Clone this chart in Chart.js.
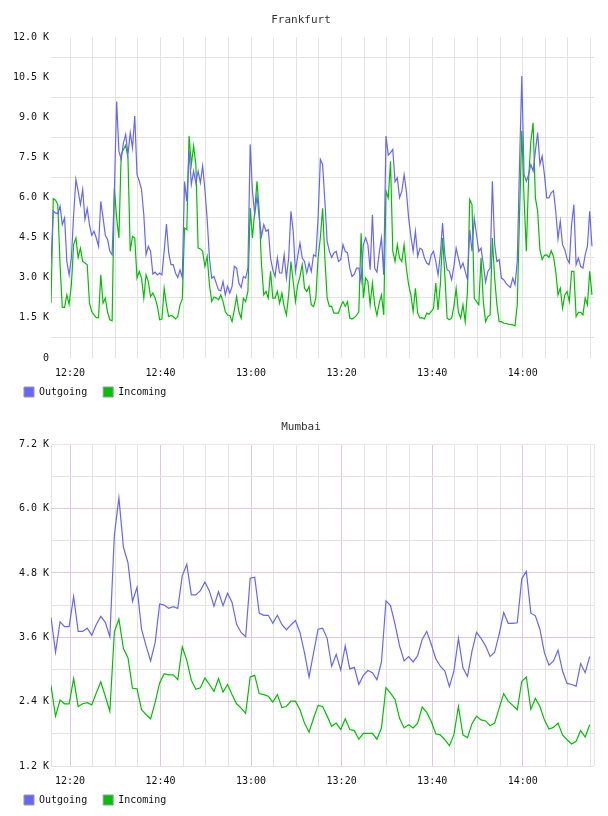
<!DOCTYPE html>
<html>
<head>
<meta charset="utf-8">
<script src="https://cdn.jsdelivr.net/npm/chart.js@4/dist/chart.umd.min.js"></script>
<style>
body { margin: 0; background: #fff; }
canvas { display: block; }
</style>
</head>
<body>
<canvas id="frankfurtChart" width="608" height="407"></canvas>
<canvas id="mumbaiChart" width="608" height="408"></canvas>
<script>
// time axis in minutes after 12:00
const timeStart = 15.8;
const timeEnd = 135.75;
const frankfurtStep = 0.5;
const mumbaiStep = 1;
const xGridMinutes = [20, 25, 30, 35, 40, 45, 50, 55, 60, 65, 70, 75, 80, 85, 90, 95, 100, 105, 110, 115, 120, 125, 130, 135];
const xLabelMinutes = [20, 40, 60, 80, 100, 120];
const xLabels = ["12:20", "12:40", "13:00", "13:20", "13:40", "14:00"];

// values in thousands
const frankfurtOutgoing = [
  3.5, 5.49, 5.43, 5.4, 5.68, 4.99, 5.24, 3.61, 3.11, 3.74,
  5.36, 6.68, 6.24, 5.74, 6.3, 5.18, 5.59, 4.99, 4.59, 4.74,
  4.49, 4.18, 5.86, 5.24, 4.59, 4.43, 3.99, 3.86, 6.24, 9.59,
  7.74, 7.43, 8.05, 8.36, 7.61, 8.43, 7.86, 9.05, 6.86, 6.61,
  6.3, 5.36, 3.86, 4.18, 3.99, 3.14, 3.21, 3.11, 3.18, 3.11,
  3.99, 5.01, 3.93, 3.49, 3.49, 3.18, 3.01, 3.3, 3.01, 6.6,
  5.86, 7.74, 6.49, 6.99, 6.55, 6.99, 6.55, 7.18, 6.3, 5.18,
  3.74, 2.99, 3.05, 2.8, 2.55, 2.51, 2.86, 2.36, 2.68, 2.43,
  2.68, 3.43, 3.36, 2.8, 2.64, 3.05, 2.99, 3.36, 7.99, 6.24,
  5.36, 6.05, 5.24, 4.55, 4.99, 4.74, 4.8, 3.74, 3.3, 3.05,
  3.74, 3.18, 3.18, 3.86, 2.99, 3.74, 5.49, 4.74, 3.24, 3.8,
  4.3, 3.74, 3.61, 3.18, 3.55, 3.24, 3.86, 3.8, 5.24, 7.43,
  7.24, 5.86, 4.36, 3.99, 3.76, 3.93, 3.99, 3.61, 3.68, 4.24,
  3.99, 3.93, 3.36, 3.05, 3.14, 3.36, 3.36, 2.86, 4.24, 4.49,
  4.24, 3.3, 5.36, 3.36, 3.21, 3.93, 4.49, 3.11, 8.3, 7.59,
  7.68, 7.8, 6.59, 6.74, 5.99, 6.24, 6.86, 6.24, 5.24, 4.55,
  3.99, 4.74, 3.8, 4.11, 4.05, 3.74, 3.55, 3.49, 3.86, 3.99,
  3.61, 3.11, 3.86, 5.05, 3.86, 3.3, 3.24, 2.93, 3.43, 4.11,
  3.74, 3.36, 3.55, 3.24, 2.93, 4.8, 3.99, 5.24, 4.61, 3.99,
  4.11, 3.49, 2.84, 3.24, 3.36, 6.61, 4.24, 3.61, 3.68, 2.99,
  2.93, 2.8, 2.71, 2.64, 2.99, 2.74, 3.61, 7.24, 10.55, 6.86,
  6.61, 6.86, 7.24, 6.99, 7.74, 8.43, 7.24, 7.55, 6.86, 5.99,
  5.99, 6.18, 6.26, 5.49, 4.46, 5.11, 4.24, 4.05, 3.71, 3.55,
  4.99, 5.74, 3.49, 3.74, 3.43, 3.36, 3.86, 4.18, 5.49, 4.18
];
const frankfurtIncoming = [
  2.05, 5.96, 5.9, 5.74, 3.49, 1.89, 1.89, 2.36, 2.01, 2.74,
  4.24, 4.49, 3.76, 4.11, 3.61, 3.55, 3.49, 2.05, 1.74, 1.61,
  1.51, 1.51, 3.11, 2.05, 2.24, 1.71, 1.43, 1.39, 6.36, 5.24,
  4.49, 7.61, 7.8, 7.96, 7.49, 3.99, 4.55, 4.49, 2.99, 3.24,
  2.99, 2.24, 3.11, 2.86, 2.3, 2.43, 2.24, 1.93, 1.43, 1.46,
  2.61, 1.99, 1.55, 1.59, 1.55, 1.46, 1.55, 1.99, 2.2, 4.86,
  4.8, 8.3, 7.24, 7.93, 7.24, 4.11, 4.08, 3.99, 3.43, 3.8,
  2.74, 2.11, 2.28, 2.24, 2.18, 2.36, 2.11, 1.74, 1.61, 1.59,
  1.36, 1.8, 2.3, 1.74, 1.49, 2.24, 2.11, 2.49, 5.61, 4.49,
  5.49, 6.61, 5.49, 3.49, 2.36, 2.49, 2.24, 3.24, 2.24, 2.24,
  2.49, 2.05, 2.43, 1.93, 1.61, 2.36, 3.61, 2.86, 2.11, 2.74,
  3.05, 3.49, 2.61, 2.49, 2.68, 1.99, 1.93, 2.24, 3.74, 4.5,
  5.6, 3.74, 2.24, 1.93, 1.93, 1.68, 1.68, 1.68, 1.93, 2.11,
  1.93, 2.11, 1.49, 1.46, 1.51, 1.59, 1.74, 4.67, 2.24, 2.99,
  2.86, 1.99, 2.8, 1.99, 1.59, 2.05, 2.36, 1.61, 6.24, 5.99,
  7.36, 4.0, 3.61, 4.24, 3.74, 3.61, 4.24, 3.36, 2.74, 2.36,
  1.74, 2.61, 1.68, 1.49, 1.51, 1.46, 1.68, 1.64, 1.74, 1.86,
  2.8, 1.8, 2.74, 4.49, 3.11, 1.49, 1.43, 1.49, 1.93, 2.6,
  1.71, 1.49, 1.99, 1.36, 2.49, 5.93, 5.74, 2.24, 2.11, 1.99,
  3.74, 2.11, 1.36, 1.55, 1.61, 4.49, 2.99, 1.99, 1.36, 1.36,
  1.3, 1.29, 1.27, 1.26, 1.24, 1.2, 1.99, 5.36, 8.5, 5.99,
  3.99, 6.68, 8.11, 8.8, 6.0, 5.49, 4.05, 3.68, 3.84, 3.86,
  3.76, 4.01, 3.8, 3.24, 2.36, 2.61, 1.86, 2.36, 2.49, 2.11,
  3.24, 3.24, 1.55, 1.71, 1.71, 1.61, 2.24, 1.99, 3.24, 2.36
];
const mumbaiOutgoing = [
  3.97, 3.32, 3.89, 3.80, 3.80, 4.36, 3.71, 3.71, 3.77, 3.64,
  3.84, 3.99, 3.88, 3.61, 5.51, 6.20, 5.28, 4.99, 4.27, 4.53,
  3.75, 3.44, 3.16, 3.50, 4.22, 4.20, 4.14, 4.17, 4.14, 4.75,
  4.96, 4.39, 4.39, 4.47, 4.63, 4.46, 4.18, 4.45, 4.19, 4.42,
  4.25, 3.84, 3.69, 3.61, 4.70, 4.72, 4.05, 4.01, 4.01, 3.86,
  4.01, 3.84, 3.74, 3.83, 3.91, 3.69, 3.31, 2.86, 3.31, 3.75,
  3.77, 3.58, 3.06, 3.28, 2.99, 3.44, 3.01, 3.04, 2.72, 2.89,
  2.98, 2.94, 2.81, 3.14, 4.28, 4.19, 3.84, 3.44, 3.16, 3.24,
  3.14, 3.26, 3.56, 3.71, 3.47, 3.20, 3.06, 2.97, 2.68, 2.97,
  3.58, 3.03, 2.87, 3.34, 3.69, 3.58, 3.44, 3.24, 3.32, 3.66,
  4.06, 3.86, 3.86, 3.87, 4.69, 4.83, 4.05, 4.00, 3.75, 3.31,
  3.08, 3.16, 3.36, 2.97, 2.74, 2.72, 2.69, 3.11, 2.94, 3.24
];
const mumbaiIncoming = [
  2.70, 2.13, 2.43, 2.36, 2.36, 2.83, 2.31, 2.36, 2.38, 2.34,
  2.56, 2.77, 2.50, 2.22, 3.70, 3.94, 3.39, 3.22, 2.65, 2.64,
  2.25, 2.16, 2.08, 2.38, 2.75, 2.92, 2.90, 2.90, 2.81, 3.42,
  3.17, 2.80, 2.63, 2.66, 2.84, 2.72, 2.59, 2.83, 2.58, 2.72,
  2.53, 2.36, 2.28, 2.18, 2.86, 2.89, 2.55, 2.53, 2.50, 2.39,
  2.53, 2.29, 2.31, 2.41, 2.41, 2.25, 2.00, 1.83, 2.09, 2.33,
  2.31, 2.13, 1.94, 2.00, 1.88, 2.08, 1.88, 1.86, 1.70, 1.81,
  1.81, 1.81, 1.70, 1.91, 2.66, 2.56, 2.44, 2.09, 1.91, 1.97,
  1.91, 2.00, 2.30, 2.20, 2.03, 1.80, 1.78, 1.69, 1.58, 1.78,
  2.31, 1.78, 1.73, 1.99, 2.13, 2.06, 2.04, 1.95, 2.00, 2.28,
  2.55, 2.41, 2.33, 2.25, 2.78, 2.86, 2.26, 2.46, 2.31, 2.06,
  1.89, 1.92, 2.00, 1.78, 1.69, 1.61, 1.66, 1.86, 1.74, 1.97
];

const frankfurtYLabelled = [0, 1.5, 3, 4.5, 6, 7.5, 9, 10.5, 12];
const frankfurtYMinor = [0.75, 2.25, 3.75, 5.25, 6.75, 8.25, 9.75, 11.25];
const mumbaiYLabelled = [1.2, 2.4, 3.6, 4.8, 6.0, 7.2];
const mumbaiYMinor = [1.8, 3.0, 4.2, 5.4, 6.6];

const outgoingColor = "#6666ff";
const incomingColor = "#00c000";
const monoFont = "'DejaVu Sans Mono', monospace";

function has(list, v) {
    return list.some(a => Math.abs(a - v) < 1e-6);
}

function kLabel(v) {
    return v === 0 ? "0" : v.toFixed(1) + " K";
}

function toPoints(values, step) {
    return values.map((v, i) => ({ x: timeStart + i * step, y: v }));
}

function createChart(chartId, title, outgoing, incoming, step, yLabelled, yMinor, xTicks, xColor, yColor) {
    const ctx = document.getElementById(chartId).getContext("2d");
    const yTicks = yLabelled.concat(yMinor).sort((a, b) => a - b);
    new Chart(ctx, {
        type: "line",
        data: {
            datasets: [{
                label: "Outgoing",
                data: toPoints(outgoing, step),
                borderColor: outgoingColor,
                borderWidth: 1.2,
                pointRadius: 0,
                tension: 0,
                fill: false
            }, {
                label: "Incoming",
                data: toPoints(incoming, step),
                borderColor: incomingColor,
                borderWidth: 1.2,
                pointRadius: 0,
                tension: 0,
                fill: false
            }]
        },
        options: {
            responsive: false,
            animation: false,
            devicePixelRatio: 1,
            events: [],
            layout: { padding: { left: 8, right: 14, top: 0, bottom: 0 } },
            scales: {
                x: {
                    type: "linear",
                    min: timeStart,
                    max: timeEnd,
                    afterBuildTicks: axis => { axis.ticks = xTicks.map(v => ({ value: v })); },
                    afterFit: axis => {
                        axis.height = 13;
                        // labels hang below the short axis box, so do not clip them
                        axis._computeLabelArea = () => undefined;
                    },
                    border: { display: false },
                    grid: { drawTicks: false, color: c => xColor(c.tick.value) },
                    ticks: {
                        autoSkip: false,
                        maxRotation: 0,
                        padding: 9,
                        color: "#111",
                        font: { family: monoFont, size: 10 },
                        callback: value => {
                            const idx = xLabelMinutes.indexOf(value);
                            return idx >= 0 ? xLabels[idx] : "";
                        }
                    }
                },
                y: {
                    min: yTicks[0],
                    max: yTicks[yTicks.length - 1],
                    afterBuildTicks: axis => { axis.ticks = yTicks.map(v => ({ value: v })); },
                    afterFit: axis => { axis.width = 43; },
                    border: { display: false },
                    grid: { drawTicks: false, color: c => yColor(c.tick.value) },
                    ticks: {
                        autoSkip: false,
                        padding: 2,
                        color: "#111",
                        font: { family: monoFont, size: 10 },
                        callback: value => has(yLabelled, value) ? kLabel(value) : ""
                    }
                }
            },
            plugins: {
                title: {
                    display: true,
                    text: title,
                    color: "#333",
                    font: { family: monoFont, size: 11, weight: "normal" },
                    padding: { top: 14, bottom: 10 }
                },
                legend: {
                    position: "bottom",
                    align: "start",
                    labels: {
                        boxWidth: 10,
                        boxHeight: 10,
                        padding: 16,
                        color: "#111",
                        font: { family: monoFont, size: 10 },
                        generateLabels: chart => chart.data.datasets.map((ds, i) => ({
                            text: ds.label,
                            fillStyle: ds.borderColor,
                            strokeStyle: "#999",
                            lineWidth: 1,
                            hidden: false,
                            datasetIndex: i,
                            fontColor: "#111"
                        }))
                    }
                },
                tooltip: { enabled: false }
            }
        }
    });
}

const plainGrid = "#e3e3e3";
const purpleGrid = "#dec8de";
const purpleEdge = "#efe2ef";

createChart("frankfurtChart", "Frankfurt", frankfurtOutgoing, frankfurtIncoming, frankfurtStep,
    frankfurtYLabelled, frankfurtYMinor, xGridMinutes,
    v => plainGrid,
    v => has(frankfurtYLabelled, v) ? "rgba(0,0,0,0)" : plainGrid);

createChart("mumbaiChart", "Mumbai", mumbaiOutgoing, mumbaiIncoming, mumbaiStep,
    mumbaiYLabelled, mumbaiYMinor, [timeStart].concat(xGridMinutes, [timeEnd]),
    v => v === timeEnd ? purpleEdge : (has(xLabelMinutes, v) ? purpleGrid : plainGrid),
    v => v === 7.2 ? purpleEdge : (v === 1.2 ? plainGrid : (has(mumbaiYLabelled, v) ? purpleGrid : plainGrid)));
</script>
</body>
</html>
